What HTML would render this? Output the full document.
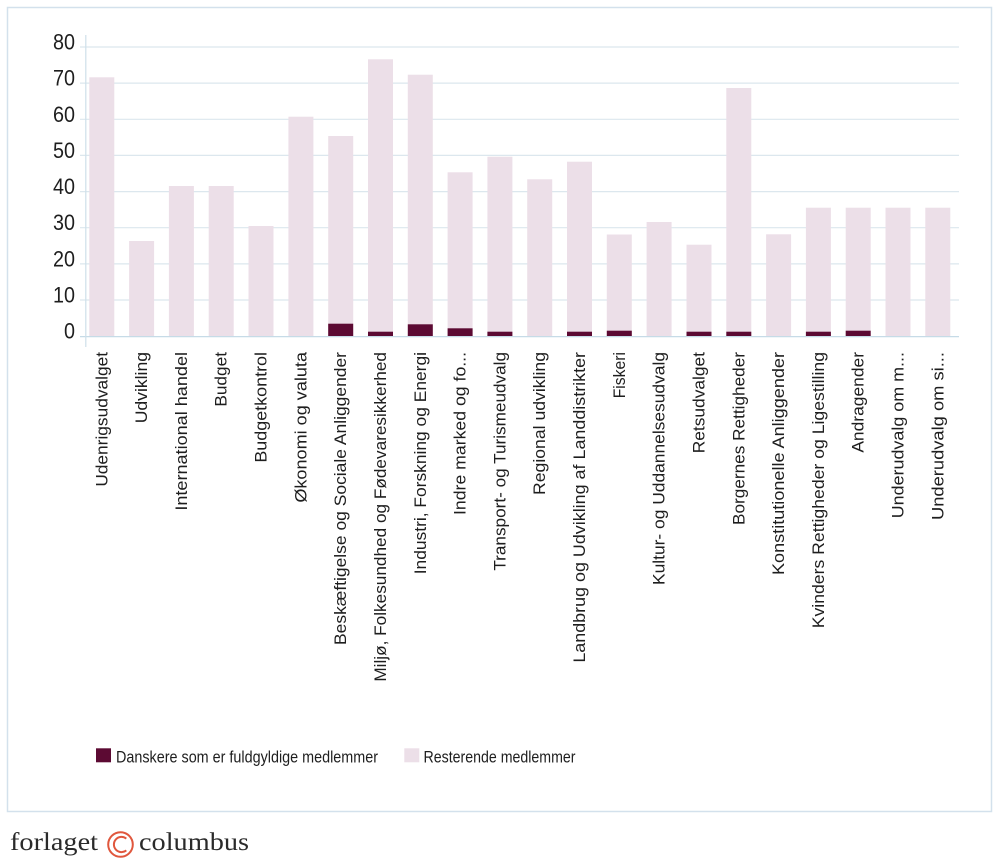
<!DOCTYPE html>
<html><head><meta charset="utf-8"><style>
html,body{margin:0;padding:0;background:#fff;}
svg{display:block;}
text{font-family:"Liberation Sans",sans-serif;fill:#1e1e1e;}
</style></head><body>
<svg width="1000" height="862" viewBox="0 0 1000 862" xmlns="http://www.w3.org/2000/svg">
<rect x="7.5" y="7.5" width="984" height="804" fill="#fff" stroke="#d3e1ec" stroke-width="1.5"/>
<!-- gridlines -->
<g stroke="#dce7ee" stroke-width="1.2">
<line x1="80" y1="47" x2="959" y2="47"/>
<line x1="80" y1="83.1" x2="959" y2="83.1"/>
<line x1="80" y1="119.3" x2="959" y2="119.3"/>
<line x1="80" y1="155.4" x2="959" y2="155.4"/>
<line x1="80" y1="191.6" x2="959" y2="191.6"/>
<line x1="80" y1="227.7" x2="959" y2="227.7"/>
<line x1="80" y1="263.9" x2="959" y2="263.9"/>
<line x1="80" y1="300" x2="959" y2="300"/>
</g>
<!-- y labels -->
<g font-size="22" text-anchor="end">
<text x="75" y="49.5" textLength="22" lengthAdjust="spacingAndGlyphs">80</text>
<text x="75" y="85.6" textLength="22" lengthAdjust="spacingAndGlyphs">70</text>
<text x="75" y="121.8" textLength="22" lengthAdjust="spacingAndGlyphs">60</text>
<text x="75" y="157.9" textLength="22" lengthAdjust="spacingAndGlyphs">50</text>
<text x="75" y="194.1" textLength="22" lengthAdjust="spacingAndGlyphs">40</text>
<text x="75" y="230.2" textLength="22" lengthAdjust="spacingAndGlyphs">30</text>
<text x="75" y="266.4" textLength="22" lengthAdjust="spacingAndGlyphs">20</text>
<text x="75" y="302.5" textLength="22" lengthAdjust="spacingAndGlyphs">10</text>
<text x="75" y="338.5" textLength="11" lengthAdjust="spacingAndGlyphs">0</text>
</g>
<!-- bars -->
<g fill="#ecdfe8">
<rect x="89.3" y="77.3" width="25" height="258.7"/>
<rect x="129.1" y="241" width="25" height="95"/>
<rect x="168.9" y="186" width="25" height="150"/>
<rect x="208.7" y="186" width="25" height="150"/>
<rect x="248.5" y="226" width="25" height="110"/>
<rect x="288.4" y="116.7" width="25" height="219.3"/>
<rect x="328.2" y="136" width="25" height="200"/>
<rect x="368" y="59.3" width="25" height="276.7"/>
<rect x="407.8" y="74.7" width="25" height="261.3"/>
<rect x="447.6" y="172.3" width="25" height="163.7"/>
<rect x="487.4" y="156.7" width="25" height="179.3"/>
<rect x="527.2" y="179.3" width="25" height="156.7"/>
<rect x="567" y="161.7" width="25" height="174.3"/>
<rect x="606.8" y="234.5" width="25" height="101.5"/>
<rect x="646.6" y="222" width="25" height="114"/>
<rect x="686.5" y="244.7" width="25" height="91.3"/>
<rect x="726.3" y="88" width="25" height="248"/>
<rect x="766.1" y="234.3" width="25" height="101.7"/>
<rect x="805.9" y="207.7" width="25" height="128.3"/>
<rect x="845.7" y="207.7" width="25" height="128.3"/>
<rect x="885.5" y="207.7" width="25" height="128.3"/>
<rect x="925.3" y="207.7" width="25" height="128.3"/>
</g>
<g fill="#5c0a33">
<rect x="328.2" y="323.7" width="25" height="12.3"/>
<rect x="368" y="331.7" width="25" height="4.3"/>
<rect x="407.8" y="324.3" width="25" height="11.7"/>
<rect x="447.6" y="328.3" width="25" height="7.7"/>
<rect x="487.4" y="331.7" width="25" height="4.3"/>
<rect x="567" y="331.7" width="25" height="4.3"/>
<rect x="606.8" y="330.7" width="25" height="5.3"/>
<rect x="686.5" y="331.7" width="25" height="4.3"/>
<rect x="726.3" y="331.7" width="25" height="4.3"/>
<rect x="805.9" y="331.7" width="25" height="4.3"/>
<rect x="845.7" y="330.7" width="25" height="5.3"/>
</g>
<!-- axes -->
<line x1="80" y1="336.6" x2="959" y2="336.6" stroke="#c6dbe7" stroke-width="1.3"/>
<line x1="85.8" y1="35" x2="85.8" y2="347" stroke="#cfe0ea" stroke-width="1.2"/>
<!-- x labels -->
<g font-size="16.5" text-anchor="end">
<text transform="translate(107.3,352) rotate(-90)" textLength="134.7" lengthAdjust="spacingAndGlyphs">Udenrigsudvalget</text>
<text transform="translate(147.1,352) rotate(-90)" textLength="71.3" lengthAdjust="spacingAndGlyphs">Udvikling</text>
<text transform="translate(186.9,352) rotate(-90)" textLength="158.7" lengthAdjust="spacingAndGlyphs">International handel</text>
<text transform="translate(226.7,352) rotate(-90)" textLength="54.7" lengthAdjust="spacingAndGlyphs">Budget</text>
<text transform="translate(266.5,352) rotate(-90)" textLength="110.7" lengthAdjust="spacingAndGlyphs">Budgetkontrol</text>
<text transform="translate(306.4,352) rotate(-90)" textLength="150.7" lengthAdjust="spacingAndGlyphs">Økonomi og valuta</text>
<text transform="translate(346.2,352) rotate(-90)" textLength="293" lengthAdjust="spacingAndGlyphs">Beskæftigelse og Sociale Anliggender</text>
<text transform="translate(386,352) rotate(-90)" textLength="329.7" lengthAdjust="spacingAndGlyphs">Miljø, Folkesundhed og Fødevaresikkerhed</text>
<text transform="translate(425.8,352) rotate(-90)" textLength="222.3" lengthAdjust="spacingAndGlyphs">Industri, Forskning og Energi</text>
<text transform="translate(465.6,352) rotate(-90)" textLength="163" lengthAdjust="spacingAndGlyphs">Indre marked og fo...</text>
<text transform="translate(505.4,352) rotate(-90)" textLength="218.7" lengthAdjust="spacingAndGlyphs">Transport- og Turismeudvalg</text>
<text transform="translate(545.2,352) rotate(-90)" textLength="143" lengthAdjust="spacingAndGlyphs">Regional udvikling</text>
<text transform="translate(585,352) rotate(-90)" textLength="310.7" lengthAdjust="spacingAndGlyphs">Landbrug og Udvikling af Landdistrikter</text>
<text transform="translate(624.8,352) rotate(-90)" textLength="46.3" lengthAdjust="spacingAndGlyphs">Fiskeri</text>
<text transform="translate(664.6,352) rotate(-90)" textLength="233" lengthAdjust="spacingAndGlyphs">Kultur- og Uddannelsesudvalg</text>
<text transform="translate(704.5,352) rotate(-90)" textLength="101.3" lengthAdjust="spacingAndGlyphs">Retsudvalget</text>
<text transform="translate(744.3,352) rotate(-90)" textLength="173" lengthAdjust="spacingAndGlyphs">Borgernes Rettigheder</text>
<text transform="translate(784.1,352) rotate(-90)" textLength="223" lengthAdjust="spacingAndGlyphs">Konstitutionelle Anliggender</text>
<text transform="translate(823.9,352) rotate(-90)" textLength="276.3" lengthAdjust="spacingAndGlyphs">Kvinders Rettigheder og Ligestilling</text>
<text transform="translate(863.7,352) rotate(-90)" textLength="100.7" lengthAdjust="spacingAndGlyphs">Andragender</text>
<text transform="translate(903.5,352) rotate(-90)" textLength="166.3" lengthAdjust="spacingAndGlyphs">Underudvalg om m...</text>
<text transform="translate(943.3,352) rotate(-90)" textLength="168" lengthAdjust="spacingAndGlyphs">Underudvalg om si...</text>
</g>
<!-- legend -->
<rect x="96" y="748.3" width="15" height="14" fill="#5c0a33"/>
<text x="116" y="762.5" font-size="17" textLength="262" lengthAdjust="spacingAndGlyphs">Danskere som er fuldgyldige medlemmer</text>
<rect x="404.3" y="748.3" width="15" height="14" fill="#ecdfe8"/>
<text x="423.5" y="762.5" font-size="17" textLength="152" lengthAdjust="spacingAndGlyphs">Resterende medlemmer</text>
<!-- logo -->
<text x="10" y="850" font-size="25" style="font-family:'Liberation Serif',serif;fill:#2a2a2a" textLength="88" lengthAdjust="spacingAndGlyphs">forlaget</text>
<circle cx="120.5" cy="844.5" r="12.3" fill="none" stroke="#e0573d" stroke-width="2"/>
<path d="M126.3 838.6 A7.6 7.6 0 1 0 126.3 850.4" fill="none" stroke="#e0573d" stroke-width="2"/>
<text x="139" y="850" font-size="25" style="font-family:'Liberation Serif',serif;fill:#2a2a2a" textLength="110" lengthAdjust="spacingAndGlyphs">columbus</text>
</svg>
</body></html>
